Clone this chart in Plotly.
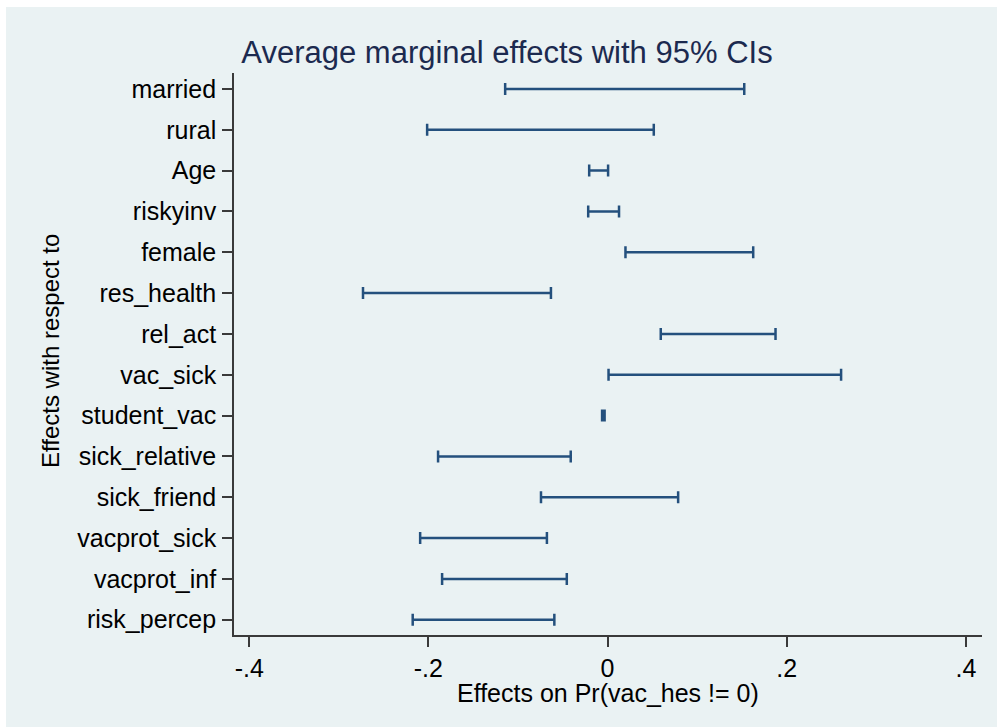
import plotly.graph_objects as go

# Data (top to bottom as shown)
variables = ["married", "rural", "Age", "riskyinv", "female", "res_health", "rel_act",
             "vac_sick", "student_vac", "sick_relative", "sick_friend", "vacprot_sick",
             "vacprot_inf", "risk_percep"]
ci_lower = [-0.1143, -0.2014, -0.0205, -0.0216, 0.0200, -0.2730, 0.0594,
            0.0011, -0.0061, -0.1892, -0.0743, -0.2092, -0.1847, -0.2175]
ci_upper = [0.1526, 0.0516, 0.0006, 0.0128, 0.1626, -0.0632, 0.1875,
            0.2607, -0.0033, -0.0411, 0.0788, -0.0677, -0.0455, -0.0594]
x_ticks = [-0.4, -0.2, 0, 0.2, 0.4]
x_ticklabels = ["-.4", "-.2", "0", ".2", ".4"]

n = len(variables)
ypos = [n - 1 - i for i in range(n)]
center = [(lo + hi) / 2 for lo, hi in zip(ci_lower, ci_upper)]
err_plus = [hi - c for hi, c in zip(ci_upper, center)]
err_minus = [c - lo for lo, c in zip(ci_lower, center)]

BAR = "#24507d"
BG = "#EAF2F3"
FONT = "Liberation Sans, Arial, sans-serif"

fig = go.Figure()
fig.add_trace(go.Scatter(
    x=center, y=ypos, mode="markers",
    marker=dict(size=1, opacity=0),
    error_x=dict(type="data", symmetric=False, array=err_plus, arrayminus=err_minus,
                 thickness=2.5, width=6, color=BAR),
    showlegend=False, hoverinfo="skip",
))

L, R, T, B = 234, 15, 73, 92
W, H = 997, 727
pw, ph = W - L - R, H - T - B

fig.add_shape(type="rect", xref="paper", yref="paper", layer="below",
              x0=(6 - L) / pw, x1=(W - L) / pw,
              y0=-(B) / ph, y1=(H - B - 7) / ph,
              fillcolor=BG, line=dict(width=0))

fig.add_annotation(text="Effects with respect to", xref="paper", yref="paper",
                   x=(50 - L) / pw, y=(H - B - 351) / ph, textangle=-90,
                   showarrow=False, xanchor="center", yanchor="middle",
                   font=dict(family=FONT, size=24, color="#000000"))

fig.add_annotation(text="Effects on Pr(vac_hes != 0)", xref="paper", yref="paper",
                   x=(608 - L) / pw, y=-(693 - (H - B)) / ph,
                   showarrow=False, xanchor="center", yanchor="middle",
                   font=dict(family=FONT, size=25, color="#000000"))

fig.update_layout(
    width=W, height=H,
    margin=dict(l=L, r=R, t=T, b=B),
    paper_bgcolor="white",
    plot_bgcolor="white",
    title=dict(text="Average marginal effects with 95% CIs", xref="container",
               x=507 / W, xanchor="center", yref="container", y=1 - 52 / H,
               yanchor="middle", font=dict(family=FONT, size=31, color="#1c2a4f")),
    xaxis=dict(range=[-0.417, 0.418], tickvals=x_ticks, ticktext=x_ticklabels,
               showgrid=False, zeroline=False, showline=True, linecolor="#3a3a3a",
               linewidth=1.6, ticks="outside", ticklen=10, tickwidth=1.6,
               tickcolor="#3a3a3a", tickfont=dict(family=FONT, size=25, color="#000")),
    yaxis=dict(range=[-0.374, n - 1 + 0.391], tickvals=ypos, ticktext=variables,
               showgrid=True, gridcolor=BG, gridwidth=2.5, zeroline=False,
               showline=True, linecolor="#3a3a3a", linewidth=1.6,
               ticks="outside", ticklen=10, tickwidth=1.6, tickcolor="#3a3a3a",
               tickfont=dict(family=FONT, size=25, color="#000"), ticklabelstandoff=1),
)

fig.write_html("out.html")
